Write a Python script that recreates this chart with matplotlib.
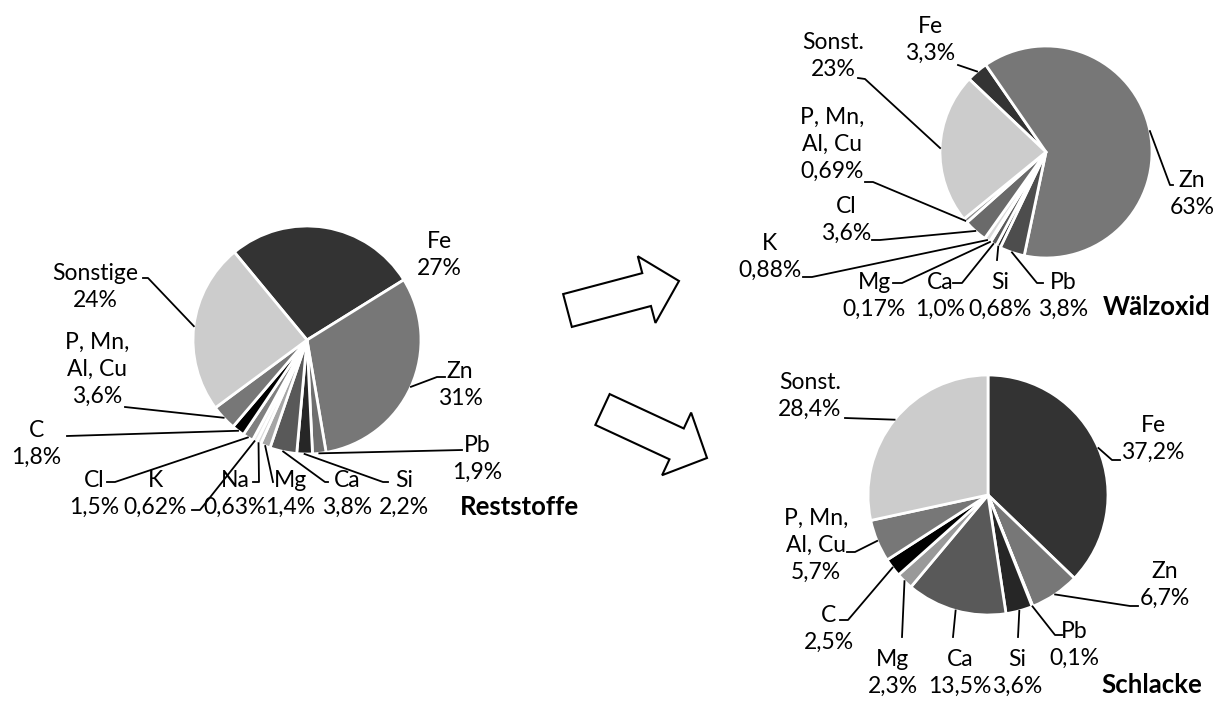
import matplotlib
matplotlib.use("Agg")
import matplotlib.pyplot as plt
from matplotlib.patches import FancyArrow
import numpy as np

plt.rcParams['font.family'] = ['Lato', 'DejaVu Sans']

W, H = 1223, 702
FS = 16.5
FS_TITLE = 18.5

# Reststoffe (clockwise from Fe)
rest_names = ["Fe", "Zn", "Pb", "Si", "Ca", "Mg", "Na", "K", "Cl", "C",
              "P, Mn,\nAl, Cu", "Sonstige"]
rest_values = [27, 31, 1.9, 2.2, 3.8, 1.4, 0.63, 0.62, 1.5, 1.8, 3.6, 24]
rest_colors = ["#333333", "#777777", "#6f6f6f", "#262626", "#595959", "#a6a6a6",
               "#d9d9d9", "#e8e8e8", "#7f7f7f", "#000000", "#777777", "#cccccc"]

# Wälzoxid
walz_names = ["Fe", "Zn", "Pb", "Si", "Ca", "Mg", "K", "Cl",
              "P, Mn,\nAl, Cu", "Sonst."]
walz_values = [3.3, 63, 3.8, 0.68, 1.0, 0.17, 0.88, 3.6, 0.69, 23]
walz_colors = ["#333333", "#777777", "#4d4d4d", "#262626", "#595959", "#a6a6a6",
               "#d9d9d9", "#6a6a6a", "#8c8c8c", "#cccccc"]

# Schlacke
schl_names = ["Fe", "Zn", "Pb", "Si", "Ca", "Mg", "C", "P, Mn,\nAl, Cu", "Sonst."]
schl_values = [37.2, 6.7, 0.1, 3.6, 13.5, 2.3, 2.5, 5.7, 28.4]
schl_colors = ["#333333", "#777777", "#6f6f6f", "#262626", "#595959", "#999999",
               "#000000", "#777777", "#cccccc"]

# label position + leader elbow points (pixels, y down)
rest_layout = [
    (439, 255, []),
    (460, 385, [(445, 377), (437, 377)]),
    (477, 459, [(462, 450)]),
    (404, 494, [(388, 482), (383, 482)]),
    (347, 494, [(328, 482), (325, 482)]),
    (290, 494, [(273, 482)]),
    (235, 494, [(253, 482), (259, 482)]),
    (155, 494, [(192, 510), (200, 510)]),
    (94, 494, [(107, 482), (115, 482)]),
    (36, 444, [(67, 436)]),
    (97, 369, [(125, 407)]),
    (95, 287, [(143, 278), (148, 278)]),
]
walz_layout = [
    (930, 40, [(958, 65)]),
    (1192, 194, [(1173, 185), (1170, 185)]),
    (1063, 296, [(1043, 283), (1037, 283)]),
    (1000, 296, [(997, 260)]),
    (940, 296, [(953, 283), (962, 283)]),
    (874, 296, [(893, 283), (902, 283)]),
    (770, 257, [(803, 277), (812, 277)]),
    (846, 220, [(872, 240), (880, 240)]),
    (832, 144, [(865, 182), (873, 182)]),
    (833, 56, [(858, 78), (865, 79)]),
]
schl_layout = [
    (1153, 439, [(1120, 460), (1112, 460)]),
    (1165, 585, [(1138, 606), (1130, 606)]),
    (1074, 645, [(1062, 635), (1055, 635)]),
    (1017, 673, [(1018, 637)]),
    (960, 673, [(953, 637)]),
    (893, 673, [(902, 637)]),
    (829, 629, [(840, 620), (848, 620)]),
    (816, 545, [(847, 552), (855, 552)]),
    (810, 396, [(845, 418)]),
]


def fmt_sig(v):
    if v >= 10:
        s = "%.0f" % v
    elif v >= 1:
        s = "%.1f" % v
    else:
        s = "%.2f" % v
    return s.replace(".", ",")


def fmt_one(v):
    return ("%.1f" % v).replace(".", ",")


def draw_pie(ax, values, names, colors, cx, cy, r, start, layout, fmt):
    wedges, _ = ax.pie(values, colors=colors, startangle=start, counterclock=False,
                       center=(cx, H - cy), radius=r,
                       wedgeprops=dict(edgecolor="white", linewidth=2))
    for w, name, v, (tx, ty, pts) in zip(wedges, names, values, layout):
        ax.text(tx, H - ty, name + "\n" + fmt(v) + "%", ha="center", va="center",
                fontsize=FS, linespacing=1.35)
        if pts:
            a = np.deg2rad((w.theta1 + w.theta2) / 2)
            xs = [p[0] for p in pts] + [cx + r * np.cos(a)]
            ys = [H - p[1] for p in pts] + [H - cy + r * np.sin(a)]
            ax.plot(xs, ys, color="black", lw=1.3)


fig = plt.figure(figsize=(W / 100, H / 100), dpi=100)
ax = fig.add_axes([0, 0, 1, 1])

draw_pie(ax, rest_values, rest_names, rest_colors, 307, 340, 114, 129.6, rest_layout, fmt_sig)
draw_pie(ax, walz_values, walz_names, walz_colors, 1046, 152, 106, 136.5, walz_layout, fmt_sig)
draw_pie(ax, schl_values, schl_names, schl_colors, 988, 495, 120, 90, schl_layout, fmt_one)

ax.text(519, H - 507, "Reststoffe", ha="center", va="center", fontsize=FS_TITLE, fontweight="bold")
ax.text(1157, H - 307, "Wälzoxid", ha="center", va="center", fontsize=FS_TITLE, fontweight="bold")
ax.text(1152, H - 685, "Schlacke", ha="center", va="center", fontsize=FS_TITLE, fontweight="bold")

# block arrows between the pies
for (x0, y0), (x1, y1) in [((567.5, 310.5), (679, 281)), ((602.5, 409.5), (707, 458))]:
    ax.add_patch(FancyArrow(x0, H - y0, x1 - x0, -(y1 - y0), width=34, head_width=69,
                            head_length=33.5, length_includes_head=True,
                            facecolor="white", edgecolor="black", lw=1.5))

ax.set_xlim(0, W)
ax.set_ylim(0, H)
ax.set_aspect("equal")
ax.axis("off")

fig.savefig("out.png", dpi=100)
